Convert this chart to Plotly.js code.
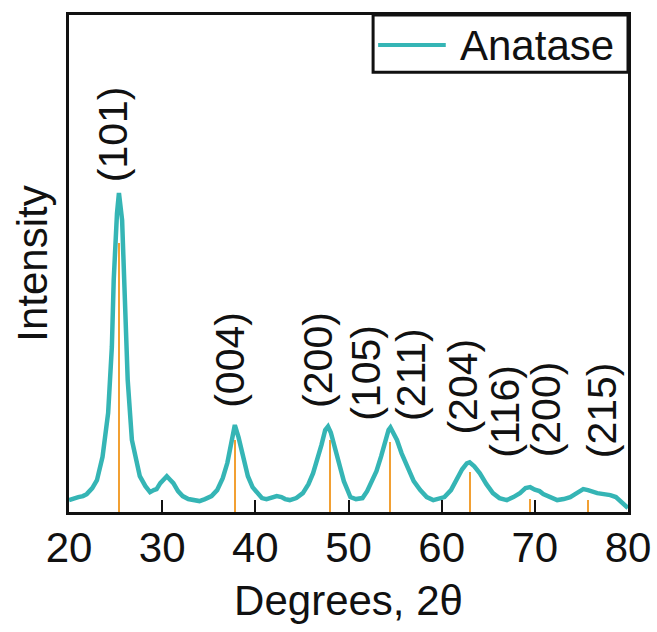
<!DOCTYPE html>
<html>
<head>
<meta charset="utf-8">
<script src="https://cdn.plot.ly/plotly-3.0.1.min.js"></script>
<style>html,body{margin:0;padding:0;background:#fff;}#chart{width:657px;height:632px;}</style>
</head>
<body>
<div id="chart"></div>
<script>
// Measured XRD pattern (2θ in degrees, intensity in arbitrary units)
const twoTheta = [20.0,20.5,21.0,21.5,21.9,22.5,23.0,23.6,24.2,24.6,24.8,25.15,25.36,25.7,26.0,26.3,26.75,27.2,27.6,28.2,28.7,29.1,29.4,29.8,30.2,30.5,30.8,31.2,31.7,32.2,32.8,33.3,34.0,34.6,35.3,35.9,36.5,37.0,37.4,37.8,38.2,38.6,39.2,39.7,40.2,40.7,41.2,41.8,42.3,42.8,43.2,43.7,44.4,45.1,45.7,46.2,46.7,47.1,47.5,47.8,48.1,48.4,48.8,49.1,49.5,49.9,50.2,50.8,51.5,52.0,52.5,53.0,53.5,53.9,54.3,54.5,54.8,55.2,55.7,56.3,57.0,57.7,58.4,59.1,59.7,60.3,61.0,61.6,62.2,62.7,63.0,63.5,64.1,64.8,65.5,66.2,67.0,67.7,68.4,69.0,69.5,70.0,70.5,70.9,71.6,72.4,73.1,73.8,74.5,75.2,75.7,76.2,76.7,77.4,78.1,78.7,79.1,79.6,80.0];
const intensity = [24,28,30,32,36,48,64,111,199,332,467,601,642,587,433,266,145,100,72,52,40,44,46,58,68,72,66,58,42,32,26,24,22,26,32,44,68,99,140,175,150,119,72,50,38,28,26,30,32,30,26,24,28,38,56,78,108,135,165,172,160,140,110,90,62,44,30,26,28,42,60,82,112,140,165,170,160,145,118,91,62,44,30,24,26,30,44,64,86,98,100,92,78,56,38,28,24,30,38,48,50,45,42,36,30,24,26,30,38,46,44,40,38,36,34,30,24,16,8];

// Reference pattern sticks (anatase)
const refAngle = [25.36,37.77,47.97,54.5,63.08,69.46,75.75];
const refIntensity = [541,145,145,141,80,26,24];

// Miller index labels
const hklLabels = ["(101)","(004)","(200)","(105)","(211)","(204)","(116)","(200)","(215)"];
const hklAngle  = [24.75,37.25,46.7,51.85,56.65,62.25,66.85,71.15,77.15];
const hklLevel  = [660,205,205,179,179,151,105,105,105];

const xTicks = [20,30,40,50,60,70,80];
const seriesName = "Anatase";
const seriesColor = "#35B5B5";

const FONT = "Liberation Sans, Arial, Helvetica, sans-serif";

const traces = [
  {
    type: "bar",
    x: refAngle,
    y: refIntensity,
    width: 0.22,
    marker: {color: "#F2A033", line: {width: 0}},
    showlegend: false,
    hoverinfo: "skip"
  },
  {
    type: "scatter",
    mode: "lines",
    x: twoTheta,
    y: intensity,
    name: seriesName,
    showlegend: false,
    line: {color: seriesColor, width: 4.5}
  }
];

const annotations = hklLabels.map((t, i) => ({
  x: hklAngle[i], y: hklLevel[i], xref: "x", yref: "y",
  text: t, textangle: -90, showarrow: false,
  xanchor: "center", yanchor: "bottom",
  font: {family: FONT, size: 41, color: "#111"}
}));

// legend box drawn as shapes + text
annotations.push({
  x: 0.696, y: 0.9396, xref: "paper", yref: "paper",
  text: seriesName, showarrow: false, xanchor: "left", yanchor: "middle",
  font: {family: FONT, size: 42, color: "#111"}
});

const shapes = [
  {type: "rect", xref: "paper", yref: "paper", x0: 0.544, x1: 1, y0: 0.885, y1: 1,
   line: {color: "#111", width: 3}, fillcolor: "#fff", layer: "above"},
  {type: "line", xref: "paper", yref: "paper", x0: 0.553, x1: 0.674, y0: 0.9396, y1: 0.9396,
   line: {color: seriesColor, width: 4}, layer: "above"}
];

const layout = {
  width: 657, height: 632,
  margin: {l: 69, r: 29, t: 15, b: 120},
  paper_bgcolor: "#fff", plot_bgcolor: "#fff",
  font: {family: FONT, color: "#111"},
  showlegend: false,
  xaxis: {
    range: [20, 80],
    tickvals: xTicks,
    ticktext: xTicks.map(String),
    ticks: "inside", ticklen: 12, tickwidth: 2, tickcolor: "#111",
    showline: true, linecolor: "#111", linewidth: 3, mirror: true,
    showgrid: false, zeroline: false,
    ticklabelstandoff: -3,
    tickfont: {family: FONT, size: 42, color: "#111"},
    title: {text: "Degrees, 2θ", font: {family: FONT, size: 42, color: "#111"}, standoff: 16}
  },
  yaxis: {
    range: [0, 1000],
    showticklabels: false, ticks: "",
    showline: true, linecolor: "#111", linewidth: 3, mirror: true,
    showgrid: false, zeroline: false,
    title: {text: "Intensity", font: {family: FONT, size: 42, color: "#111"}, standoff: 6}
  },
  bargap: 0,
  shapes: shapes,
  annotations: annotations
};

Plotly.newPlot("chart", traces, layout, {displayModeBar: false, staticPlot: true});
</script>
</body>
</html>
